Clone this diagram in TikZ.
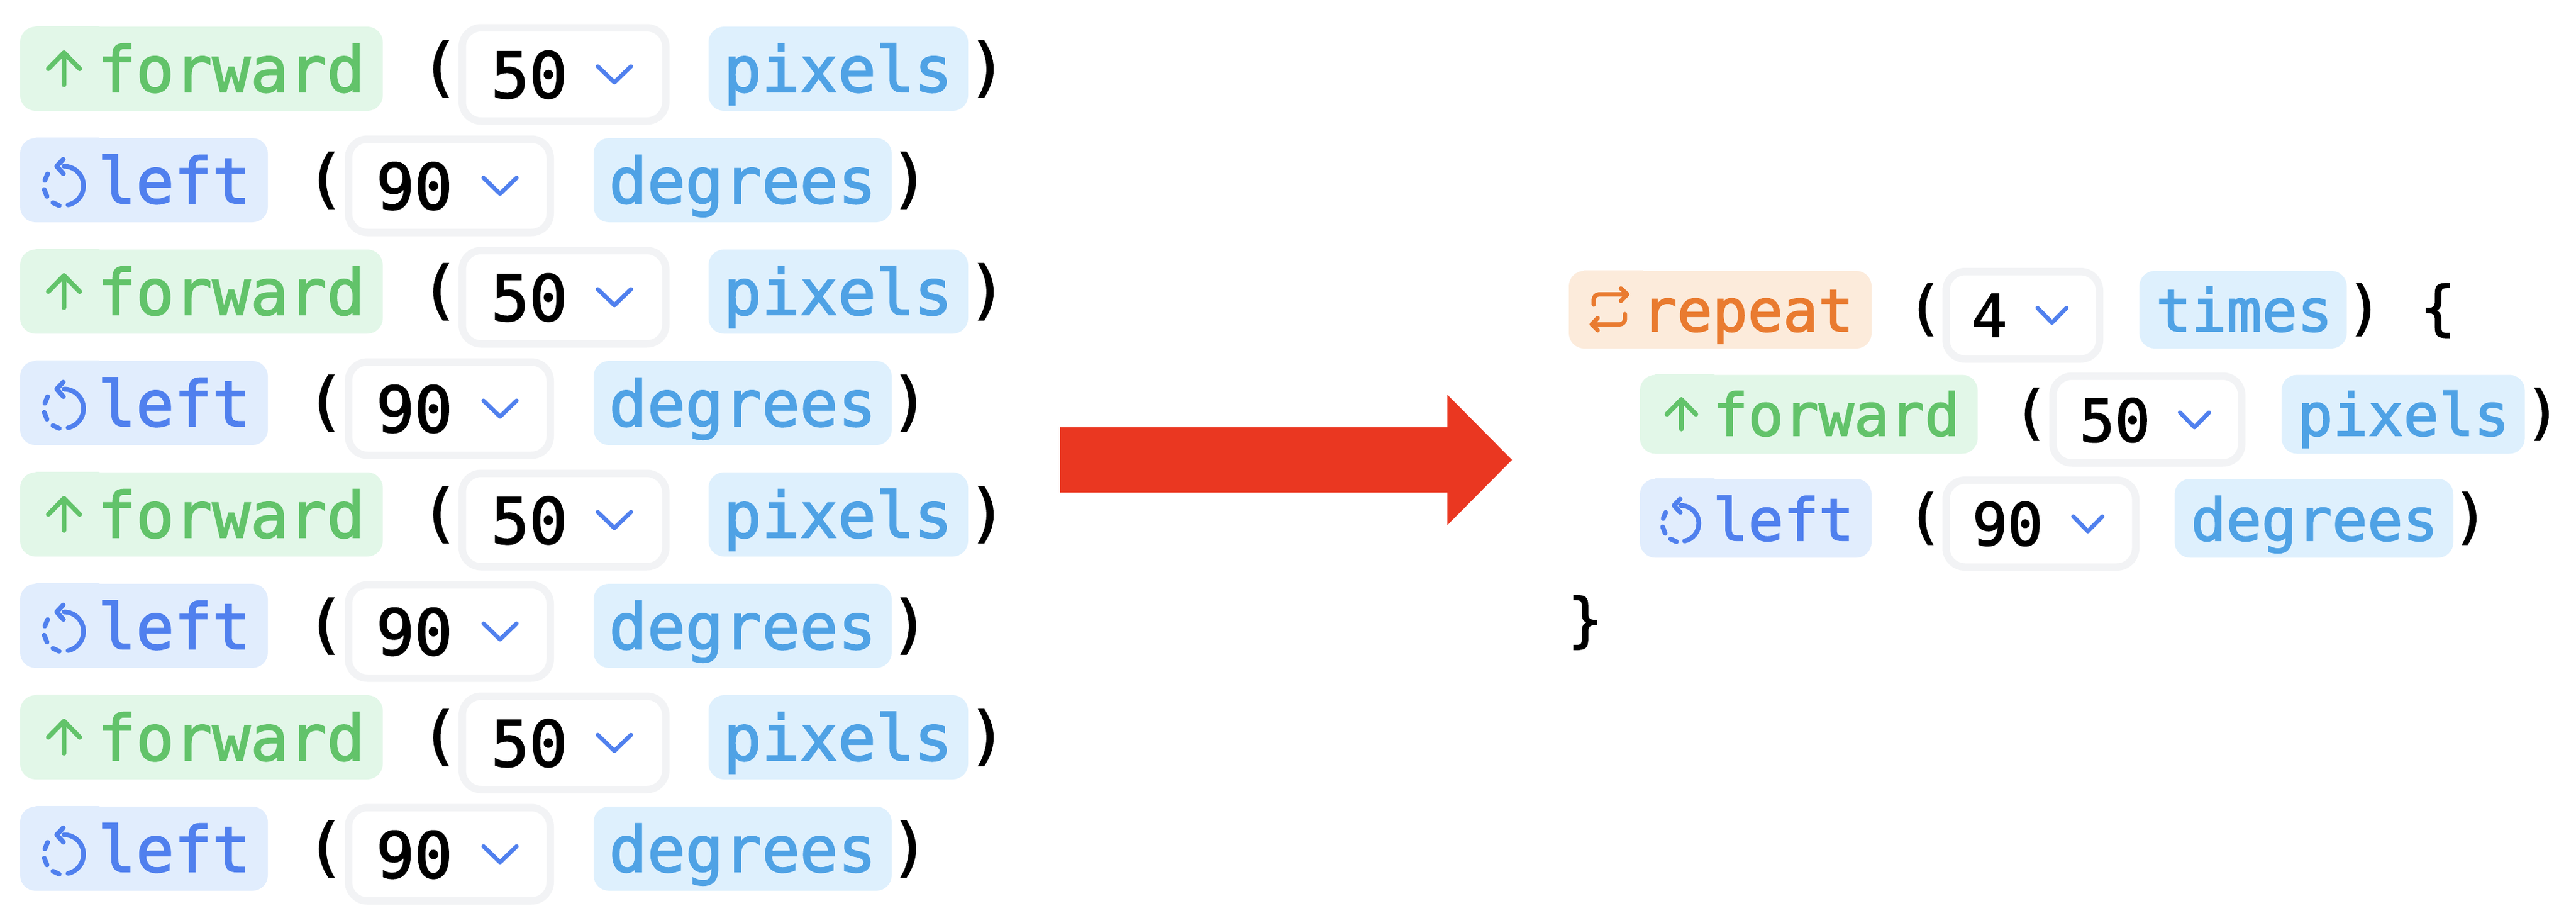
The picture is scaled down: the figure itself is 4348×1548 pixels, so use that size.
\documentclass[tikz,border=0pt]{standalone}
\usepackage{fontspec}
\setmainfont{DejaVu Sans Mono}[FakeBold=2]
\definecolor{grnbg}{HTML}{E2F7E8}\definecolor{grnfg}{HTML}{62C36A}
\definecolor{blubg}{HTML}{E1EDFD}\definecolor{blufg}{HTML}{5080EE}
\definecolor{skybg}{HTML}{DEF0FD}\definecolor{skyfg}{HTML}{4FA2E5}
\definecolor{orgbg}{HTML}{FCEBDB}\definecolor{orgfg}{HTML}{E97B30}
\definecolor{selbd}{HTML}{F2F3F5}\definecolor{arrowred}{HTML}{EA3721}
\tikzset{
  txt/.style={anchor=base west,inner sep=0pt,outer sep=0pt},
  big/.style={font=\fontsize{107}{107}\selectfont},
  small/.style={font=\fontsize{99}{99}\selectfont},
  pillbox/.style={rectangle,inner sep=0pt,outer sep=0pt,rounded corners=26pt,
    preaction={draw=white,line width=24pt}},
  selbox/.style={rectangle,inner sep=0pt,outer sep=0pt,rounded corners=32pt,draw=selbd,fill=white,
    line width=12.5pt,preaction={draw=white,line width=36.5pt}},
  ico/.style={line cap=round,line join=round,line width=8pt},
  chev/.style={draw=blufg,line cap=round,line join=round,line width=7pt},
}
\newcommand{\PillN}[6]{\node[pillbox,fill=#6,minimum width={#3-(#2)},minimum height={#5}] (#1) at ({(#2+#3)/2},#4) {};}
\newcommand{\NotchN}[5]{\fill[#5] ({#1+26},{#3-#4/2-1.5}) rectangle (#2,{#3-#4/2+2});}
\newcommand{\SelN}[5]{\node[selbox,minimum width={#3-(#2)-12.5},minimum height={#5-12.5}] (#1) at ({(#2+#3)/2},#4) {};}
\newcommand{\ChevN}[4]{\draw[chev] ({#1-#3},{#2}) -- (#1,{#2+#4}) -- ({#1+#3},{#2});}
\newcommand{\UpIcon}[3]{\begin{scope}[shift={(#1,#2)},scale=#3]
  \draw[ico,grnfg] (0,27) -- (0,-27);
  \draw[ico,grnfg] (-26.5,0) -- (0,-27) -- (26.5,0);
\end{scope}}
\newcommand{\TurnIcon}[3]{\begin{scope}[shift={(#1,#2)},scale=#3]
  \draw[ico,blufg] (0,-23.5) arc[start angle=-90,end angle=78,radius=33];
  \draw[ico,blufg] (-1.3,-35.2) -- (-12.3,-23.5) -- (-1,-10.8);
  \draw[ico,blufg] (-8,43) -- (-18.7,38);
  \draw[ico,blufg] (-28.7,27.5) -- (-33.3,15.8);
  \draw[ico,blufg] (-32.3,.5) -- (-27.7,-10.8);
\end{scope}}
\begin{document}
\begin{tikzpicture}[x=1pt,y=-1pt]
\useasboundingbox (0,0) rectangle (4348,1548);
% left column
\foreach \yc [count=\i] in {116,492,868,1244}{
  \node[txt,big,text=black] (fo\i) at (710,\yc+34) {(};
  \node[txt,big,text=black] (fc\i) at (1634,\yc+34) {)};
  \PillN{fw\i}{34}{646}{\yc}{142}{grnbg}
  \NotchN{34}{168}{\yc}{142}{grnbg}
  \UpIcon{108}{\yc}{1}
  \node[txt,big,text=grnfg] (fwt\i) at (165,\yc+39) {forward};
  \SelN{fs\i}{774}{1130}{\yc+9.5}{170}
  \node[txt,big,text=black] (fn\i) at (829,\yc+49) {50};
  \ChevN{1037}{\yc-4}{28}{27}
  \PillN{px\i}{1196}{1634}{\yc}{142}{skybg}
  \node[txt,big,text=skyfg] (pxt\i) at (1221,\yc+39) {pixels};
}
\foreach \yc [count=\i] in {304,680,1056,1432}{
  \node[txt,big,text=black] (lo\i) at (517,\yc+34) {(};
  \node[txt,big,text=black] (lc\i) at (1503,\yc+34) {)};
  \PillN{lf\i}{34}{452}{\yc}{142}{blubg}
  \NotchN{34}{168}{\yc}{142}{blubg}
  \TurnIcon{108}{\yc}{1}
  \node[txt,big,text=blufg] (lft\i) at (165,\yc+39) {left};
  \SelN{ls\i}{582}{935}{\yc+9.5}{170}
  \node[txt,big,text=black] (ln\i) at (635,\yc+49) {90};
  \ChevN{844}{\yc-4}{28}{27}
  \PillN{dg\i}{1002}{1505}{\yc}{142}{skybg}
  \node[txt,big,text=skyfg] (dgt\i) at (1028,\yc+39) {degrees};
}
% red arrow
\fill[arrowred] (1789,721) -- (2443,721) -- (2443,666) -- (2552,776) -- (2443,886) -- (2443,831) -- (1789,831) -- cycle;
% right column: repeat
\node[txt,small,text=black] (ro) at (3219,522.5+31) {(};
\node[txt,small,text=black] (rc) at (3961,522.5+31) {)};
\node[txt,small,text=black] (rb) at (4085,522.5+31) {\{};
\PillN{rp}{2648}{3159}{522.5}{131}{orgbg}
\NotchN{2648}{2773}{522.5}{131}{orgbg}
\draw[ico,orgfg,line width=7.3pt,rounded corners=9pt] (2690,514) -- (2690,496.7) -- (2746.7,496.7);
\draw[ico,orgfg,line width=7.3pt] (2736,486.7) -- (2746.7,496.7) -- (2736,507.7);
\draw[ico,orgfg,line width=7.3pt,rounded corners=9pt] (2742.7,530) -- (2742.7,547.3) -- (2686.7,547.3);
\draw[ico,orgfg,line width=7.3pt] (2696.7,536.7) -- (2686.7,547.3) -- (2696.7,557.3);
\node[txt,small,text=orgfg] (rpt) at (2771,559) {repeat};
\SelN{rs}{3278.5}{3550}{532}{160}
\node[txt,small,text=black] (rn) at (3328,568) {4};
\ChevN{3463.5}{519.5}{24.5}{25}
\PillN{tm}{3611}{3961}{522.5}{131}{skybg}
\node[txt,small,text=skyfg] (tmt) at (3639,559) {times};
% right column: forward
\node[txt,small,text=black] (f2o) at (3398,699+31) {(};
\node[txt,small,text=black] (f2c) at (4262,699+31) {)};
\PillN{f2}{2768}{3338}{699}{133}{grnbg}
\NotchN{2768}{2894}{699}{133}{grnbg}
\UpIcon{2838}{699}{.92}
\node[txt,small,text=grnfg] (f2t) at (2891,735) {forward};
\SelN{f2s}{3459}{3790}{708}{159}
\node[txt,small,text=black] (f2n) at (3510,745) {50};
\ChevN{3704}{696}{24.5}{25}
\PillN{p2}{3851}{4261.5}{699}{133}{skybg}
\node[txt,small,text=skyfg] (p2t) at (3878,735) {pixels};
% right column: left
\node[txt,small,text=black] (l2o) at (3219,874.5+31) {(};
\node[txt,small,text=black] (l2c) at (4140,874.5+31) {)};
\PillN{l2}{2768}{3159}{874.5}{133}{blubg}
\NotchN{2768}{2894}{874.5}{133}{blubg}
\TurnIcon{2837}{874.5}{.92}
\node[txt,small,text=blufg] (l2t) at (2891,912) {left};
\SelN{l2s}{3278.5}{3611}{883.5}{159}
\node[txt,small,text=black] (l2n) at (3329,920) {90};
\ChevN{3524}{871.5}{24.5}{25}
\PillN{d2}{3670.5}{4141}{874.5}{133}{skybg}
\node[txt,small,text=skyfg] (d2t) at (3698,912) {degrees};
\node[txt,small,text=black] (cb) at (2646,1080) {\}};
\end{tikzpicture}
\end{document}
